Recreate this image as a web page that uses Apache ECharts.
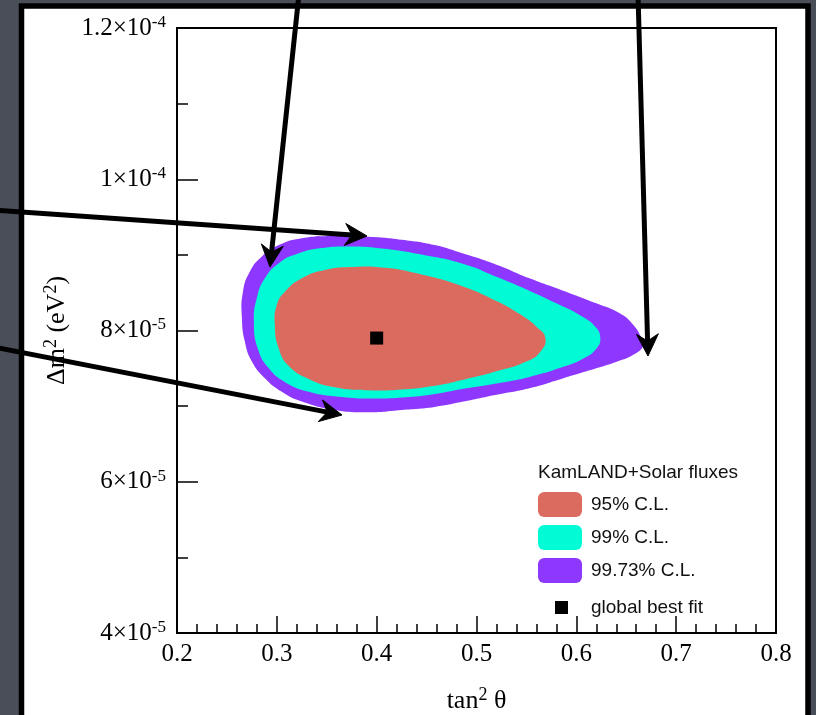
<!DOCTYPE html>
<html>
<head>
<meta charset="utf-8">
<script src="https://cdn.jsdelivr.net/npm/echarts@6/dist/echarts.min.js"></script>
<style>
  html, body { margin: 0; padding: 0; background: #4a4e58; }
  #chart { width: 816px; height: 715px; }
</style>
</head>
<body>
<div id="chart"></div>
<script>
// Allowed regions in the (tan²θ, Δm²) plane. Δm² is given in units of 1e-5 eV².
const contour9973 = [
  [0.265, 8.17], [0.266, 8.51], [0.273, 8.78], [0.285, 8.98], [0.302, 9.13], [0.325, 9.22],
  [0.358, 9.25], [0.392, 9.24], [0.425, 9.20], [0.458, 9.13], [0.486, 9.02], [0.520, 8.87],
  [0.553, 8.69], [0.586, 8.53], [0.620, 8.36], [0.643, 8.23], [0.656, 8.09], [0.665, 7.91],
  [0.667, 7.80], [0.657, 7.68], [0.641, 7.59], [0.620, 7.50], [0.587, 7.37], [0.554, 7.24],
  [0.520, 7.15], [0.487, 7.06], [0.458, 6.99], [0.425, 6.95], [0.392, 6.92], [0.358, 6.95],
  [0.325, 7.06], [0.305, 7.19], [0.288, 7.37], [0.275, 7.59], [0.268, 7.85]
];
const contour99 = [
  [0.277, 8.12], [0.280, 8.43], [0.288, 8.69], [0.302, 8.89], [0.322, 9.02], [0.345, 9.09],
  [0.375, 9.11], [0.408, 9.08], [0.442, 9.01], [0.487, 8.88], [0.520, 8.71], [0.554, 8.52],
  [0.580, 8.36], [0.604, 8.20], [0.619, 8.05], [0.624, 7.90], [0.620, 7.76], [0.607, 7.63],
  [0.587, 7.52], [0.554, 7.39], [0.520, 7.30], [0.487, 7.23], [0.458, 7.16], [0.432, 7.12],
  [0.398, 7.10], [0.365, 7.12], [0.332, 7.19], [0.308, 7.32], [0.292, 7.50], [0.281, 7.76]
];
const contour95 = [
  [0.298, 8.07], [0.300, 8.34], [0.308, 8.51], [0.325, 8.69], [0.348, 8.80], [0.375, 8.84],
  [0.408, 8.83], [0.442, 8.75], [0.487, 8.58], [0.520, 8.39], [0.544, 8.21], [0.560, 8.05],
  [0.569, 7.90], [0.564, 7.72], [0.550, 7.59], [0.520, 7.46], [0.487, 7.35], [0.458, 7.27],
  [0.425, 7.22], [0.392, 7.21], [0.358, 7.25], [0.332, 7.36], [0.312, 7.53], [0.302, 7.76]
];
const bestFit = [[0.40, 7.90]];

const seriesNames = ['95% C.L.', '99% C.L.', '99.73% C.L.'];
const bestFitName = 'global best fit';
const legendTitle = 'KamLAND+Solar fluxes';
const xAxisTitle = '{t|tan}{s|2}{t| \u03b8}';
const yAxisTitle = '{t|\u0394m}{s|2}{t| (eV}{s|2}{t|)}';

// y tick labels written as mantissa × 10^exponent
const yTickValues = [4, 6, 8, 10, 12];
const yTickMantissa = ['4', '6', '8', '1', '1.2'];
const yTickExponent = ['-5', '-5', '-5', '-4', '-4'];

const COLORS = { c95: '#dc6b5f', c99: '#00fbd5', c9973: '#8e38ff' };
const SERIF = '"Liberation Serif", "Times New Roman", serif';
const SANS = '"Liberation Sans", Arial, sans-serif';

const titleRich = {
  t: { fontFamily: SERIF, fontSize: 26, color: '#000', lineHeight: 30 },
  s: { fontFamily: SERIF, fontSize: 18, color: '#000', verticalAlign: 'top', lineHeight: 20 }
};

function regionSeries(name, pts, color, z) {
  return {
    type: 'custom',
    name: name,
    coordinateSystem: 'cartesian2d',
    data: pts,
    encode: { x: 0, y: 1 },
    color: color,
    itemStyle: { color: color },
    silent: true,
    z: z,
    renderItem: function (params, api) {
      if (params.dataIndex !== 0) return;
      const points = pts.map(function (p) { return api.coord(p); });
      return {
        type: 'polygon',
        shape: { points: points, smooth: 0.5 },
        style: { fill: color, stroke: null }
      };
    }
  };
}

// Annotation arrows (screen space): tail and tip
const arrowLines = [
  [[299, -6], [270, 267]],
  [[638, -6], [648, 356]],
  [[-6, 210], [367, 236]],
  [[-6, 347], [342, 415]]
];
function arrowGraphics(tail, tip) {
  const dx = tip[0] - tail[0], dy = tip[1] - tail[1];
  const len = Math.hypot(dx, dy);
  const ux = dx / len, uy = dy / len, nx = -uy, ny = ux;
  const L = 22, W = 11, notch = 7;
  const back = [tip[0] - ux * L, tip[1] - uy * L];
  const inner = [tip[0] - ux * (L - notch), tip[1] - uy * (L - notch)];
  return [
    {
      type: 'polyline', z: 100, silent: true,
      shape: { points: [tail, inner] },
      style: { stroke: '#000', lineWidth: 5, fill: null }
    },
    {
      type: 'polygon', z: 100, silent: true,
      shape: { points: [tip, [back[0] + nx * W, back[1] + ny * W], inner, [back[0] - nx * W, back[1] - ny * W]] },
      style: { fill: '#000', stroke: '#000', lineWidth: 1 }
    }
  ];
}

const graphics = [
  {
    type: 'rect', z: -100, silent: true,
    shape: { x: 21.5, y: 6, width: 786.5, height: 760 },
    style: { fill: '#ffffff', stroke: '#000000', lineWidth: 5.5 }
  }
];
arrowLines.forEach(function (a) { graphics.push.apply(graphics, arrowGraphics(a[0], a[1])); });

const chart = echarts.init(document.getElementById('chart'), null, { renderer: 'canvas' });
chart.setOption({
  backgroundColor: '#4a4e58',
  animation: false,
  title: {
    text: legendTitle,
    left: 538, top: 463, padding: 0,
    textStyle: { fontFamily: SANS, fontSize: 19, fontWeight: 'normal', color: '#111' }
  },
  grid: {
    left: 177, right: 40, top: 28, bottom: 82,
    containLabel: false,
    outerBoundsMode: 'none',
    show: true, borderColor: '#000', borderWidth: 2, backgroundColor: 'transparent'
  },
  xAxis: {
    type: 'value', min: 0.2, max: 0.8, interval: 0.1,
    name: xAxisTitle, nameLocation: 'middle', nameGap: 53,
    nameTextStyle: { color: '#000', rich: titleRich },
    axisLine: { show: true, lineStyle: { color: '#000', width: 2 } },
    axisTick: { show: true, inside: true, length: 17, lineStyle: { color: '#000', width: 1.5 } },
    minorTick: { show: true, splitNumber: 5, length: 9, lineStyle: { color: '#000', width: 1.5 } },
    splitLine: { show: false },
    axisLabel: {
      fontFamily: SERIF, fontSize: 25, color: '#000', margin: 9,
      showMinLabel: true, showMaxLabel: true,
      formatter: function (v) { return v.toFixed(1); }
    }
  },
  yAxis: {
    type: 'value', min: 4, max: 12, interval: 2,
    name: yAxisTitle, nameLocation: 'middle', nameGap: 89,
    nameTextStyle: { color: '#000', rich: titleRich },
    axisLine: { show: true, lineStyle: { color: '#000', width: 2 } },
    axisTick: { show: true, inside: true, length: 21, lineStyle: { color: '#000', width: 1.5 } },
    minorTick: { show: true, splitNumber: 2, length: 11, lineStyle: { color: '#000', width: 1.5 } },
    splitLine: { show: false },
    axisLabel: {
      margin: 11, showMinLabel: true, showMaxLabel: true,
      formatter: function (v) {
        const i = yTickValues.indexOf(Math.round(v));
        if (i < 0) return '';
        return '{m|' + yTickMantissa[i] + '\u00d710}{e|' + yTickExponent[i] + '}';
      },
      rich: {
        m: { fontFamily: SERIF, fontSize: 25, color: '#000', lineHeight: 28 },
        e: { fontFamily: SERIF, fontSize: 17, color: '#000', verticalAlign: 'top', lineHeight: 20 }
      }
    }
  },
  legend: [
    {
      data: seriesNames.map(function (n) { return { name: n, icon: 'roundRect' }; }),
      orient: 'vertical', left: 538, top: 492, padding: 0,
      itemWidth: 44, itemHeight: 25, itemGap: 8,
      selectedMode: false,
      textStyle: { fontFamily: SANS, fontSize: 19, color: '#111', padding: [0, 0, 0, 4] }
    },
    {
      data: [{ name: bestFitName, icon: 'rect', itemStyle: { color: '#000', opacity: 1 } }],
      orient: 'vertical', left: 555, top: 598, padding: 0,
      itemWidth: 13, itemHeight: 13,
      selectedMode: false,
      textStyle: { fontFamily: SANS, fontSize: 19, color: '#111', padding: [0, 0, 0, 18] }
    }
  ],
  series: [
    regionSeries(seriesNames[2], contour9973, COLORS.c9973, 2),
    regionSeries(seriesNames[1], contour99, COLORS.c99, 3),
    regionSeries(seriesNames[0], contour95, COLORS.c95, 4),
    {
      type: 'scatter', name: bestFitName, data: bestFit,
      symbol: 'rect', symbolSize: 13, z: 10, silent: true,
      itemStyle: { color: '#000', opacity: 1 }
    }
  ],
  graphic: graphics
});
</script>
</body>
</html>
